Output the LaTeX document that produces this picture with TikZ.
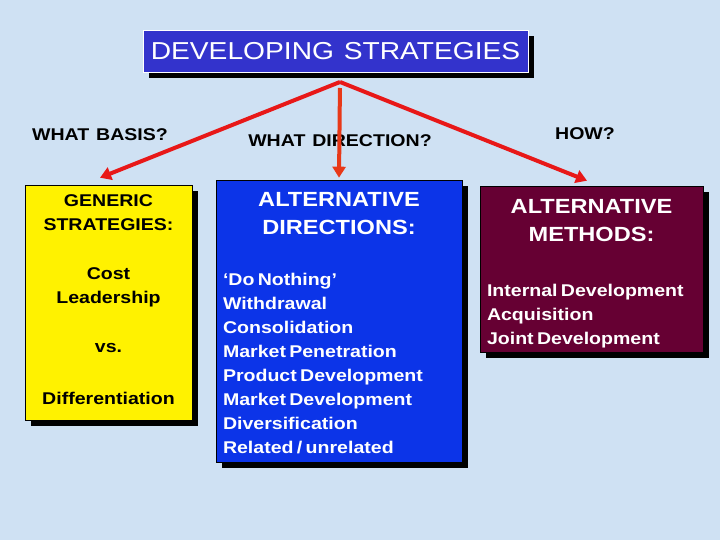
\documentclass[tikz,border=0pt]{standalone}
\usepackage{fontspec}
\setmainfont[FakeStretch=1.15, WordSpace=1.25]{Liberation Sans}
\usetikzlibrary{arrows.meta,shadows}
\definecolor{paper}{RGB}{207,225,243}
\definecolor{titleblue}{RGB}{51,51,204}
\definecolor{dirblue}{RGB}{12,52,232}
\definecolor{methodred}{RGB}{102,0,51}
\definecolor{linkred}{RGB}{232,24,24}
\definecolor{downred}{RGB}{232,56,24}
\tikzset{
  panel/.style={draw=black, line width=0.6pt, inner sep=0pt,
    drop shadow={shadow xshift=6pt, shadow yshift=-6pt, fill=black, opacity=1}},
  question/.style={font=\fontsize{17}{20}\selectfont\bfseries, inner sep=0pt},
  link/.style={line width=4pt, draw=linkred, -{Triangle[length=11pt, width=13pt]}}
}
\begin{document}
\begin{tikzpicture}[x=1pt, y=-1pt]
  \fill[paper] (0,0) rectangle (720,540);
  \useasboundingbox (0,0) rectangle (720,540);
  \draw
    (335.5,51) node[panel, draw=white, fill=titleblue, text=white,
      minimum width=385pt, minimum height=42pt,
      font=\fontsize{24.5}{28}\selectfont] (title){DEVELOPING STRATEGIES}
    (100,135) node[question] (basis){WHAT BASIS?}
    (340,141) node[question] (direction){WHAT DIRECTION?}
    (585,134) node[question] (how){HOW?}
    (108.5,302.5) node[panel, fill=yellow, minimum width=167pt, minimum height=235pt,
      text depth=5pt, align=center, font=\fontsize{17}{24}\selectfont\bfseries] (generic)
      {GENERIC\\STRATEGIES:\\[25pt]Cost\\Leadership\\[25pt]vs.\\[28pt]Differentiation}
    (339,321) node[panel, fill=dirblue, text=white, minimum width=246pt, minimum height=282pt,
      text height=18.7pt, text width=232pt, font=\bfseries] (directions)
      {{\fontsize{20.5}{28}\selectfont\centering ALTERNATIVE\\DIRECTIONS:\par}\vspace{27pt}%
       {\raggedright\fontsize{17}{24}\selectfont
       `Do Nothing'\\Withdrawal\\Consolidation\\Market Penetration\\Product Development\\
       Market Development\\Diversification\\Related / unrelated\par}}
    (591.5,269) node[panel, fill=methodred, text=white, minimum width=223pt, minimum height=166pt,
      text height=22.7pt, text width=209pt, font=\bfseries] (methods)
      {{\fontsize{20.5}{28}\selectfont\centering ALTERNATIVE\\METHODS:\par}\vspace{31pt}%
       {\raggedright\fontsize{17}{24}\selectfont
       Internal Development\\Acquisition\\Joint Development\par}};
  \coordinate (apex) at (340,82);
  \begin{scope}[link]
    \draw (apex) to ([xshift=-8.5pt, yshift=7pt]generic.north);
    \draw[draw=downred, shorten <=6pt] (apex) to ([yshift=2pt]directions.north);
    \draw (apex) to ([xshift=-4.5pt, yshift=5pt]methods.north);
  \end{scope}
\end{tikzpicture}
\end{document}
